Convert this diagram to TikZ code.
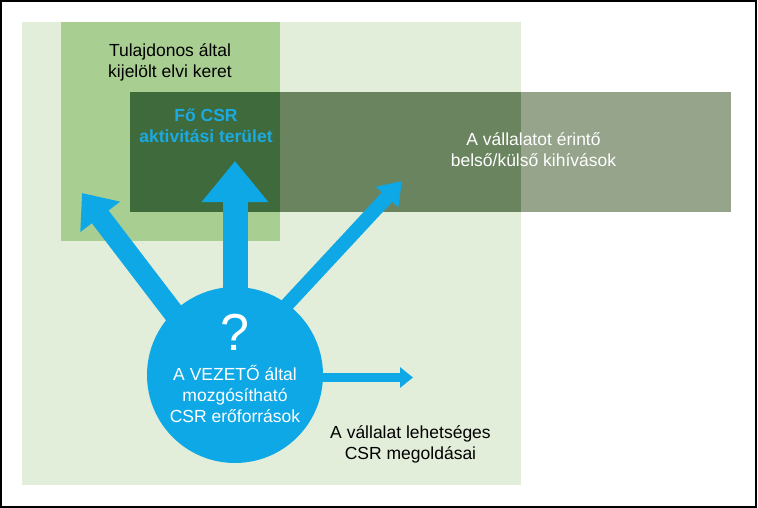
\documentclass[tikz,border=0pt]{standalone}
\usepackage{fontspec}
\setmainfont{Liberation Sans}
\usetikzlibrary{arrows.meta,calc}
\definecolor{lightbg}{HTML}{E3EEDA}
\definecolor{medgreen}{HTML}{A8CE92}
\definecolor{bandM}{HTML}{3E6A3C}
\definecolor{bandL}{HTML}{6B8460}
\definecolor{bandW}{HTML}{95A48B}
\definecolor{csrblue}{HTML}{0EA8E6}
\definecolor{csrtext}{HTML}{1BAAE2}
\tikzset{
  box/.style={draw=none, inner sep=0pt, anchor=north west},
  lbl/.style={align=center, font=\fontsize{17.5}{21}\selectfont, inner sep=0pt},
  blockarrow/.style={draw=csrblue, line cap=butt}
}
\begin{document}
\begin{tikzpicture}[x=1pt,y=-1pt]
\useasboundingbox (0,0) rectangle (758,508);
\fill[white] (0,0) rectangle (758,508);
% background areas
\node[box, fill=lightbg, minimum width=499pt, minimum height=463pt] (solutions) at (22,22) {};
\node[box, fill=medgreen, minimum width=219pt, minimum height=219pt] (frame) at (61,22) {};
\node[box, fill=bandW, minimum width=601pt, minimum height=120pt] (band) at (130,92) {};
\node[box, fill=bandL, minimum width=241pt, minimum height=120pt] (bandl) at (280,92) {};
\node[box, fill=bandM, minimum width=150pt, minimum height=120pt] (bandm) at (130,92) {};
% texts on areas
\node[lbl] (tul) at (170,62.5) {Tulajdonos által\\kijelölt elvi keret};
\node[lbl, text=csrtext, font=\fontsize{17.5}{21}\selectfont\bfseries] (fo) at (206,125.5) {Fő CSR\\aktivitási terület};
\node[lbl, text=white] (kih) at (533.5,150) {A vállalatot érintő\\belső/külső kihívások};
\node[lbl] (meg) at (410.5,444.5) {A vállalat lehetséges\\CSR megoldásai};
% arrows
\coordinate (cc) at (235,375);
\coordinate (tipL) at (82,193);
\coordinate (tipU) at (235,161);
\coordinate (tipD) at (402,181);
\coordinate (tipR) at (413,377.5);
\draw[blockarrow, line width=21pt, -{Triangle[width=48pt,length=30pt]}] ($(cc)+(-1,17)$) -- (tipL);
\draw[blockarrow, line width=25pt, -{Triangle[width=64pt,length=41pt]}] (cc) -- (tipU);
\draw[blockarrow, line width=14pt, -{Triangle[width=29pt,length=22pt]}] ($(cc)+(-3,-11)$) -- (tipD);
\draw[blockarrow, line width=9pt, -{Triangle[width=20pt,length=13pt]}] (cc |- tipR) -- (tipR);
% circle
\node[circle, fill=csrblue, minimum size=176pt, inner sep=0pt] (res) at (cc) {};
\node[text=white, font=\fontsize{52}{52}\selectfont, inner sep=0pt] (q) at (235,332.5) {?};
\node[lbl, text=white] (vez) at (235,393.5) {A VEZETŐ által\\mozgósítható\\CSR erőforrások};
% outer frame
\draw[line width=1.5pt] (1,1) rectangle (756,507);
\end{tikzpicture}
\end{document}
